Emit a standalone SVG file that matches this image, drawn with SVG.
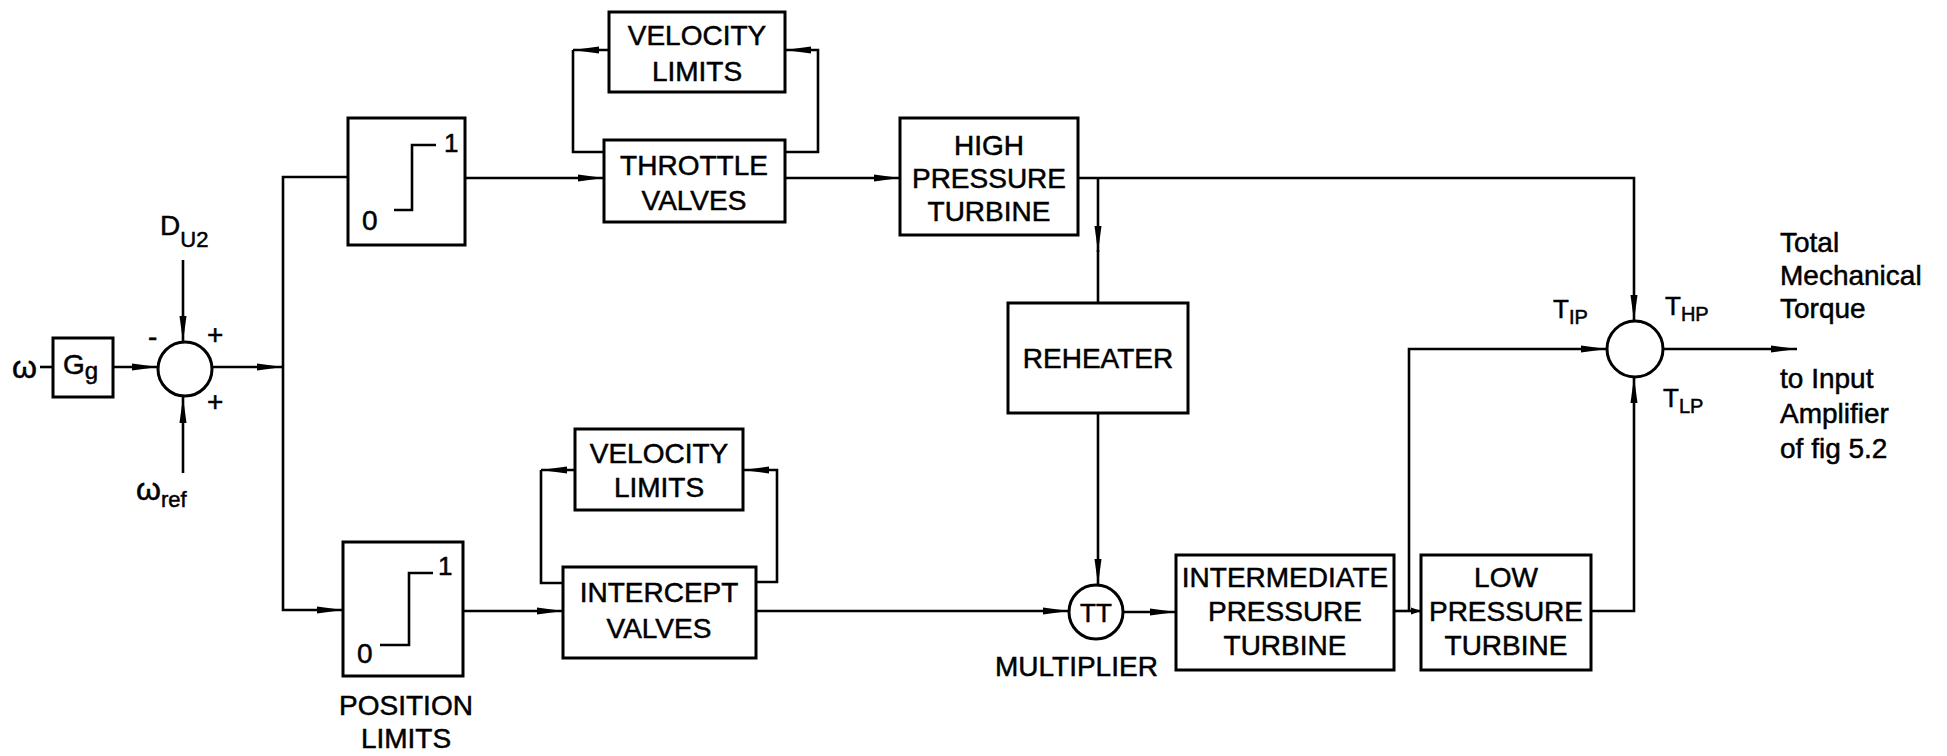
<svg xmlns="http://www.w3.org/2000/svg" width="1947" height="756" viewBox="0 0 1947 756">
<style>
.box{fill:none;stroke:#000;stroke-width:3}
.ln{fill:none;stroke:#000;stroke-width:2.6}
.t{font-family:"Liberation Sans",Arial,sans-serif;font-size:28px;fill:#000;stroke:#000;stroke-width:0.5}
.c{text-anchor:middle}
.sub{font-size:20px}
</style>
<defs>
<marker id="arr" viewBox="0 0 26 10" refX="26" refY="5" markerWidth="26" markerHeight="10" markerUnits="userSpaceOnUse" orient="auto">
<path d="M0,1.5 L26,5 L0,8.5 z" fill="#000"/>
</marker>
<marker id="arrs" viewBox="0 0 10 8" refX="10" refY="4" markerWidth="10" markerHeight="8" markerUnits="userSpaceOnUse" orient="auto">
<path d="M0,0.5 L10,4 L0,7.5 z" fill="#000"/>
</marker>
</defs>
<rect width="1947" height="756" fill="#fff"/>

<g id="omega-in">
<text class="t" x="12" y="378" style="font-size:32px">ω</text>
</g>
<g id="Gg">
<rect class="box" x="53" y="338" width="60" height="59"/>
<text class="t" x="63" y="374">G<tspan style="font-size:24px" dy="5">g</tspan></text>
</g>
<g id="sum1">
<circle class="box" cx="185" cy="369" r="27"/>
<text class="t" x="148" y="346">-</text>
<text class="t" x="207" y="344">+</text>
<text class="t" x="207" y="411">+</text>
</g>
<g id="DU2">
<text class="t" x="160" y="235">D<tspan style="font-size:22px" dy="12">U</tspan><tspan style="font-size:22px">2</tspan></text>
</g>
<g id="omega-ref">
<text class="t" x="136" y="500" style="font-size:32px">ω<tspan style="font-size:22px" dy="7">ref</tspan></text>
</g>

<g id="limiter-upper">
<rect class="box" x="348" y="118" width="117" height="127"/>
<polyline class="ln" points="394,210 412,210 412,145 436,145"/>
<text class="t" x="362" y="230">0</text>
<text class="t" x="444" y="152" style="font-size:26px">1</text>
</g>
<g id="limiter-lower">
<rect class="box" x="343" y="542" width="120" height="134"/>
<polyline class="ln" points="380,645 409,645 409,573 433,573"/>
<text class="t" x="357" y="663">0</text>
<text class="t" x="438" y="575" style="font-size:26px">1</text>
<text class="t c" x="406" y="715">POSITION</text>
<text class="t c" x="406" y="748">LIMITS</text>
</g>

<g id="velocity-upper">
<rect class="box" x="609" y="12" width="176" height="80"/>
<text class="t c" x="697" y="45">VELOCITY</text>
<text class="t c" x="697" y="81">LIMITS</text>
</g>
<g id="throttle">
<rect class="box" x="604" y="140" width="181" height="82"/>
<text class="t c" x="694" y="175">THROTTLE</text>
<text class="t c" x="694" y="210">VALVES</text>
</g>
<g id="velocity-lower">
<rect class="box" x="575" y="429" width="168" height="81"/>
<text class="t c" x="659" y="463">VELOCITY</text>
<text class="t c" x="659" y="497">LIMITS</text>
</g>
<g id="intercept">
<rect class="box" x="563" y="567" width="193" height="91"/>
<text class="t c" x="659" y="602">INTERCEPT</text>
<text class="t c" x="659" y="638">VALVES</text>
</g>

<g id="hp-turbine">
<rect class="box" x="900" y="118" width="178" height="117"/>
<text class="t c" x="989" y="155">HIGH</text>
<text class="t c" x="989" y="188">PRESSURE</text>
<text class="t c" x="989" y="221">TURBINE</text>
</g>
<g id="reheater">
<rect class="box" x="1008" y="303" width="180" height="110"/>
<text class="t c" x="1098" y="368">REHEATER</text>
</g>
<g id="multiplier">
<circle class="box" cx="1096" cy="612" r="27"/>
<text class="t c" x="1096" y="622" style="font-size:26px">TT</text>
<text class="t" x="995" y="676">MULTIPLIER</text>
</g>
<g id="ip-turbine">
<rect class="box" x="1176" y="555" width="218" height="115"/>
<text class="t c" x="1285" y="587">INTERMEDIATE</text>
<text class="t c" x="1285" y="621">PRESSURE</text>
<text class="t c" x="1285" y="655">TURBINE</text>
</g>
<g id="lp-turbine">
<rect class="box" x="1421" y="555" width="170" height="115"/>
<text class="t c" x="1506" y="587">LOW</text>
<text class="t c" x="1506" y="621">PRESSURE</text>
<text class="t c" x="1506" y="655">TURBINE</text>
</g>
<g id="sum2">
<circle class="box" cx="1635" cy="349" r="28"/>
<text class="t" x="1553" y="318" style="font-size:26px">T<tspan class="sub" dy="6">IP</tspan></text>
<text class="t" x="1665" y="315" style="font-size:26px">T<tspan class="sub" dy="6">HP</tspan></text>
<text class="t" x="1663" y="407" style="font-size:26px">T<tspan class="sub" dy="6">LP</tspan></text>
</g>
<g id="output-label">
<text class="t" x="1780" y="252">Total</text>
<text class="t" x="1780" y="285">Mechanical</text>
<text class="t" x="1780" y="318">Torque</text>
<text class="t" x="1780" y="388">to Input</text>
<text class="t" x="1780" y="423">Amplifier</text>
<text class="t" x="1780" y="458">of fig 5.2</text>
</g>

<g id="connectors">
<path class="ln" d="M40,367 H53"/>
<path class="ln" d="M113,367 H158" marker-end="url(#arr)"/>
<path class="ln" d="M183,260 V342" marker-end="url(#arr)"/>
<path class="ln" d="M183,473 V397" marker-end="url(#arr)"/>
<path class="ln" d="M212,367 H283" marker-end="url(#arr)"/>
<path class="ln" d="M348,177 H283 V610 H343" marker-end="url(#arr)"/>
<path class="ln" d="M465,178 H604" marker-end="url(#arr)"/>
<path class="ln" d="M785,178 H900" marker-end="url(#arr)"/>
<path class="ln" d="M785,152 H818 V50 H785" marker-end="url(#arr)"/>
<path class="ln" d="M609,50 H573" marker-end="url(#arr)"/>
<path class="ln" d="M573,50 V152 H604"/>
<path class="ln" d="M1078,178 H1634 V321" marker-end="url(#arr)"/>
<path class="ln" d="M1098,178 V252" marker-end="url(#arr)"/>
<path class="ln" d="M1098,250 V303"/>
<path class="ln" d="M1098,413 V585" marker-end="url(#arr)"/>
<path class="ln" d="M463,611 H563" marker-end="url(#arr)"/>
<path class="ln" d="M756,582 H777 V470 H743" marker-end="url(#arr)"/>
<path class="ln" d="M575,470 H541" marker-end="url(#arr)"/>
<path class="ln" d="M541,470 V583 H563"/>
<path class="ln" d="M756,611 H1069" marker-end="url(#arr)"/>
<path class="ln" d="M1123,612 H1176" marker-end="url(#arr)"/>
<path class="ln" d="M1394,611 H1421" marker-end="url(#arrs)"/>
<path class="ln" d="M1409,611 V349 H1607" marker-end="url(#arr)"/>
<path class="ln" d="M1591,611 H1634 V377" marker-end="url(#arr)"/>
<path class="ln" d="M1663,349 H1797" marker-end="url(#arr)"/>
</g>
</svg>
